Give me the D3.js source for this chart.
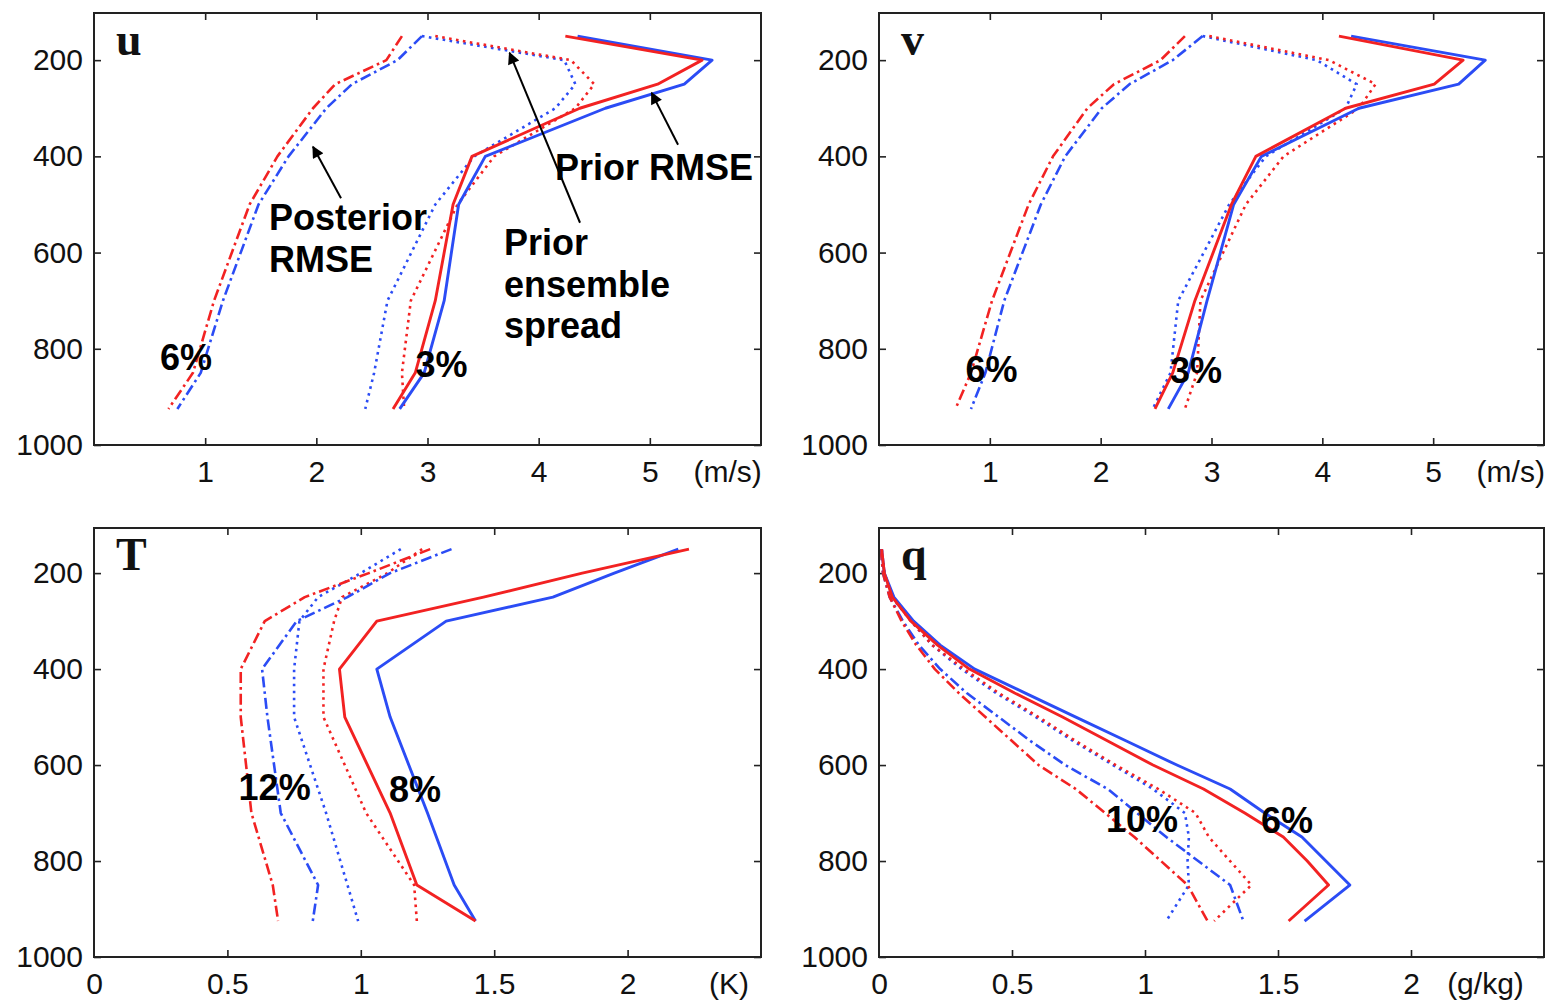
<!DOCTYPE html>
<html><head><meta charset="utf-8">
<script src="https://cdn.jsdelivr.net/npm/d3@7"></script>
<style>
html,body{margin:0;padding:0;background:#fff;}
svg{display:block;}
</style></head>
<body>
<svg id="chart" width="1556" height="1001"></svg>
<script>
// ---------- data ----------
const levels = [150, 200, 250, 300, 400, 500, 700, 850, 925];
const qLevels = [150, 200, 250, 300, 350, 400, 450, 500, 550, 600, 650, 700, 750, 800, 850, 925];
const pressureTicks = [200, 400, 600, 800, 1000];
const windTicks = [1, 2, 3, 4, 5];
const windTickLabels = ["1", "2", "3", "4", "5"];
const tqTicks = [0, 0.5, 1, 1.5, 2];
const tqTickLabels = ["0", "0.5", "1", "1.5", "2"];

// u (m/s)
const uPriorRmseRed  = [4.24, 5.47, 5.07, 4.37, 3.40, 3.23, 3.07, 2.89, 2.69];
const uPriorRmseBlue = [4.35, 5.56, 5.31, 4.60, 3.52, 3.28, 3.15, 2.97, 2.75];
const uSpreadRed     = [3.07, 4.29, 4.50, 4.33, 3.60, 3.27, 2.85, 2.77, 2.79];
const uSpreadBlue    = [2.95, 4.23, 4.33, 4.15, 3.42, 3.07, 2.64, 2.52, 2.44];
const uPostRed       = [2.77, 2.63, 2.17, 1.97, 1.65, 1.40, 1.08, 0.89, 0.67];
const uPostBlue      = [2.95, 2.73, 2.32, 2.09, 1.75, 1.48, 1.16, 0.96, 0.75];
// v (m/s)
const vPriorRmseRed  = [4.15, 5.27, 5.01, 4.21, 3.40, 3.18, 2.85, 2.65, 2.49];
const vPriorRmseBlue = [4.26, 5.47, 5.23, 4.33, 3.45, 3.20, 2.96, 2.79, 2.61];
const vSpreadRed     = [2.98, 4.06, 4.48, 4.33, 3.65, 3.31, 2.90, 2.87, 2.76];
const vSpreadBlue    = [2.92, 3.95, 4.31, 4.21, 3.49, 3.16, 2.70, 2.63, 2.47];
const vPostRed       = [2.76, 2.54, 2.12, 1.88, 1.57, 1.35, 1.02, 0.83, 0.69];
const vPostBlue      = [2.92, 2.65, 2.26, 2.01, 1.68, 1.46, 1.13, 0.96, 0.83];
// T (K)
const tPriorRmseRed  = [2.23, 1.83, 1.46, 1.06, 0.92, 0.94, 1.11, 1.21, 1.43];
const tPriorRmseBlue = [2.19, 1.95, 1.72, 1.32, 1.06, 1.11, 1.25, 1.35, 1.43];
const tSpreadRed     = [1.23, 1.10, 0.93, 0.90, 0.86, 0.86, 1.02, 1.20, 1.21];
const tSpreadBlue    = [1.15, 1.00, 0.84, 0.77, 0.75, 0.75, 0.87, 0.95, 0.99];
const tPostRed       = [1.26, 1.03, 0.79, 0.64, 0.55, 0.55, 0.59, 0.67, 0.69];
const tPostBlue      = [1.34, 1.11, 0.95, 0.76, 0.63, 0.65, 0.70, 0.84, 0.82];
// q (g/kg)
const qPriorRmseRed  = [0.01, 0.02, 0.05, 0.12, 0.22, 0.34, 0.51, 0.69, 0.86, 1.03, 1.22, 1.375, 1.52, 1.61, 1.69, 1.54];
const qPriorRmseBlue = [0.01, 0.02, 0.056, 0.13, 0.23, 0.36, 0.55, 0.74, 0.93, 1.12, 1.32, 1.45, 1.59, 1.68, 1.77, 1.60];
const qSpreadRed     = [0.01, 0.02, 0.05, 0.12, 0.20, 0.32, 0.45, 0.60, 0.74, 0.89, 1.05, 1.19, 1.24, 1.32, 1.40, 1.26];
const qSpreadBlue    = [0.01, 0.02, 0.05, 0.12, 0.20, 0.31, 0.44, 0.59, 0.73, 0.88, 1.03, 1.15, 1.165, 1.16, 1.165, 1.08];
const qPostRed       = [0.007, 0.015, 0.04, 0.085, 0.14, 0.21, 0.30, 0.40, 0.50, 0.60, 0.74, 0.85, 0.96, 1.06, 1.16, 1.235];
const qPostBlue      = [0.007, 0.015, 0.04, 0.09, 0.15, 0.23, 0.33, 0.45, 0.57, 0.70, 0.86, 0.97, 1.08, 1.20, 1.32, 1.37];

const RED = "#f22222", BLUE = "#2b4cf5";
const STYLES = {
  solid:   {dash: null,          width: 2.9},
  dotted:  {dash: "2.6,4.4",     width: 2.6},
  dashdot: {dash: "11,4,2.6,4",  width: 2.6}
};

function series(lv, vals, color, style){ return {pts: lv.map((p,i)=>({p, v: vals[i]})), color, style}; }

const panels = [
  {id:"u", x0:94, x1:761, yTop:13, yBot:445, pTop:102, xMax:6,
   ticks: windTicks, tickLabels: windTickLabels, unit:"(m/s)", unitV:5.7,
   series:[
     series(levels,uSpreadBlue,BLUE,"dotted"), series(levels,uSpreadRed,RED,"dotted"),
     series(levels,uPostBlue,BLUE,"dashdot"), series(levels,uPostRed,RED,"dashdot"),
     series(levels,uPriorRmseBlue,BLUE,"solid"), series(levels,uPriorRmseRed,RED,"solid")],
   labels:[
     {t:"6%", v:0.594, p:844}, {t:"3%", v:2.893, p:859},
     {t:"Prior RMSE", v:4.147, p:449},
     {t:"Posterior", v:1.574, p:553}, {t:"RMSE", v:1.574, p:640},
     {t:"Prior", v:3.688, p:605}, {t:"ensemble", v:3.688, p:692}, {t:"spread", v:3.688, p:778}],
   arrows:[
     {v1:2.222, p1:487, v2:1.970, p2:380},
     {v1:4.372, p1:538, v2:3.738, p2:185},
     {v1:5.254, p1:376, v2:5.016, p2:268}]},
  {id:"v", x0:879, x1:1544, yTop:13, yBot:445, pTop:102, xMax:6,
   ticks: windTicks, tickLabels: windTickLabels, unit:"(m/s)", unitV:5.7,
   series:[
     series(levels,vSpreadBlue,BLUE,"dotted"), series(levels,vSpreadRed,RED,"dotted"),
     series(levels,vPostBlue,BLUE,"dashdot"), series(levels,vPostRed,RED,"dashdot"),
     series(levels,vPriorRmseBlue,BLUE,"solid"), series(levels,vPriorRmseRed,RED,"solid")],
   labels:[{t:"6%", v:0.781, p:869}, {t:"3%", v:2.626, p:871}], arrows:[]},
  {id:"T", x0:94, x1:761, yTop:528, yBot:957, pTop:106, xMax:2.5,
   ticks: tqTicks, tickLabels: tqTickLabels, unit:"(K)", unitV:2.38,
   series:[
     series(levels,tSpreadBlue,BLUE,"dotted"), series(levels,tSpreadRed,RED,"dotted"),
     series(levels,tPostBlue,BLUE,"dashdot"), series(levels,tPostRed,RED,"dashdot"),
     series(levels,tPriorRmseBlue,BLUE,"solid"), series(levels,tPriorRmseRed,RED,"solid")],
   labels:[{t:"12%", v:0.542, p:673}, {t:"8%", v:1.106, p:677}], arrows:[]},
  {id:"q", x0:879, x1:1544, yTop:528, yBot:957, pTop:106, xMax:2.5,
   ticks: tqTicks, tickLabels: tqTickLabels, unit:"(g/kg)", unitV:2.28,
   series:[
     series(qLevels,qSpreadBlue,BLUE,"dotted"), series(qLevels,qSpreadRed,RED,"dotted"),
     series(qLevels,qPostBlue,BLUE,"dashdot"), series(qLevels,qPostRed,RED,"dashdot"),
     series(qLevels,qPriorRmseBlue,BLUE,"solid"), series(qLevels,qPriorRmseRed,RED,"solid")],
   labels:[{t:"10%", v:0.853, p:739}, {t:"6%", v:1.436, p:741}], arrows:[]}
];

// ---------- drawing ----------
const svg = d3.select("#chart");
svg.append("rect").attr("width",1556).attr("height",1001).attr("fill","#fff");
const defs = svg.append("defs");
defs.append("marker").attr("id","ah").attr("viewBox","0 0 10 10")
  .attr("refX",9).attr("refY",5).attr("markerUnits","userSpaceOnUse")
  .attr("markerWidth",15).attr("markerHeight",12).attr("orient","auto")
  .append("path").attr("d","M0,0 L10,5 L0,10 Z").attr("fill","#000");

const SANS = "'Liberation Sans', Arial, Helvetica, sans-serif";
const SERIF = "'Liberation Serif', 'Times New Roman', serif";

panels.forEach(P => {
  const x = d3.scaleLinear().domain([0, P.xMax]).range([P.x0, P.x1]);
  const y = d3.scaleLinear().domain([P.pTop, 1000]).range([P.yTop, P.yBot]);
  const g = svg.append("g");

  const cid = "clip-" + P.id;
  defs.append("clipPath").attr("id", cid).append("rect")
    .attr("x", P.x0).attr("y", P.yTop).attr("width", P.x1-P.x0).attr("height", P.yBot-P.yTop);

  const tickStyle = sel => {
    sel.select(".domain").remove();
    sel.selectAll(".tick line").attr("stroke","#222").attr("stroke-width",1.6);
    sel.selectAll("text").attr("font-family",SANS).attr("font-size",30).attr("fill","#111");
  };
  const innerX = P.ticks.filter(t => t > 0);
  g.append("g").attr("transform",`translate(0,${P.yBot})`)
    .call(d3.axisBottom(x).tickValues(P.ticks).tickSize(0).tickPadding(16)
      .tickFormat((d,i)=>P.tickLabels[i])).call(tickStyle);
  g.append("g").attr("transform",`translate(0,${P.yBot})`)
    .call(d3.axisBottom(x).tickValues(innerX).tickSize(-7).tickFormat("")).call(tickStyle);
  g.append("g").attr("transform",`translate(0,${P.yTop})`)
    .call(d3.axisTop(x).tickValues(innerX).tickSize(-7).tickFormat("")).call(tickStyle);
  g.append("g").attr("transform",`translate(${P.x0},0)`)
    .call(d3.axisLeft(y).tickValues(pressureTicks).tickSize(-7).tickPadding(11)
      .tickFormat(d3.format("d"))).call(tickStyle);
  g.append("g").attr("transform",`translate(${P.x1},0)`)
    .call(d3.axisRight(y).tickValues(pressureTicks).tickSize(-7).tickFormat("")).call(tickStyle);

  g.append("text").attr("x", x(P.unitV)).attr("y", P.yBot + 37)
    .attr("text-anchor","middle").attr("font-family",SANS).attr("font-size",30)
    .attr("fill","#111").text(P.unit);

  const line = d3.line().x(d => x(d.v)).y(d => y(d.p));
  const lg = g.append("g").attr("clip-path",`url(#${cid})`);
  P.series.forEach(s => {
    const st = STYLES[s.style];
    lg.append("path").datum(s.pts).attr("d", line)
      .attr("fill","none").attr("stroke", s.color).attr("stroke-width", st.width)
      .attr("stroke-linejoin","round")
      .attr("stroke-dasharray", st.dash);
  });

  g.append("rect").attr("x",P.x0).attr("y",P.yTop)
    .attr("width",P.x1-P.x0).attr("height",P.yBot-P.yTop)
    .attr("fill","none").attr("stroke","#222").attr("stroke-width",2);

  g.append("text").attr("x", P.x0 + 22).attr("y", P.yTop + 42)
    .attr("font-family",SERIF).attr("font-weight","bold").attr("font-size",46)
    .attr("fill","#111").text(P.id);

  P.labels.forEach(L => {
    g.append("text").attr("x", x(L.v)).attr("y", y(L.p))
      .attr("font-family",SANS).attr("font-weight","bold").attr("font-size",36)
      .attr("fill","#000").text(L.t);
  });
  P.arrows.forEach(A => {
    g.append("line").attr("x1",x(A.v1)).attr("y1",y(A.p1))
      .attr("x2",x(A.v2)).attr("y2",y(A.p2))
      .attr("stroke","#000").attr("stroke-width",2).attr("marker-end","url(#ah)");
  });
});
</script>
</body></html>
